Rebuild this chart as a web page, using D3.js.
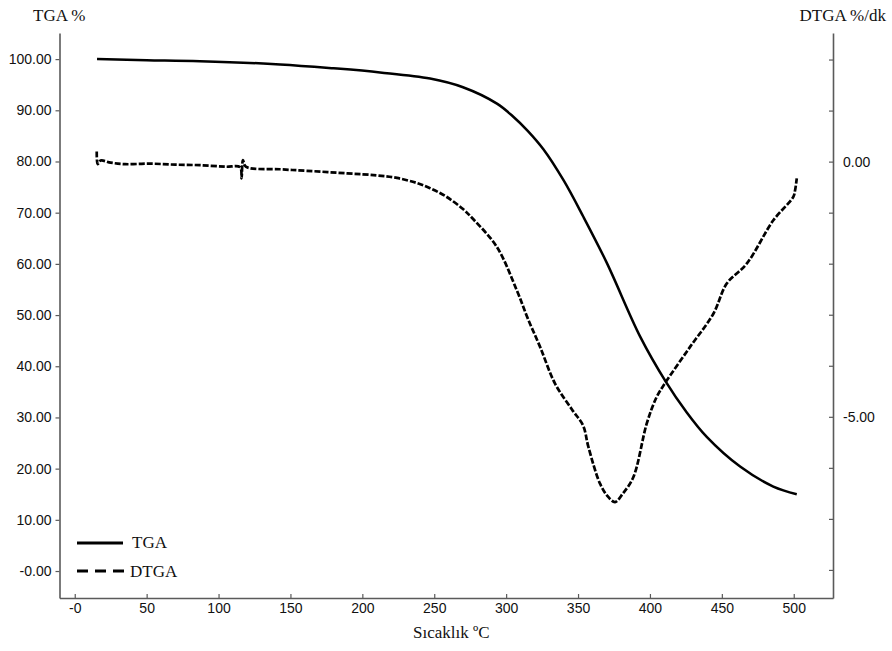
<!DOCTYPE html>
<html>
<head>
<meta charset="utf-8">
<script src="https://cdn.jsdelivr.net/npm/d3@7"></script>
<style>
  html, body { margin: 0; padding: 0; background: #fff; }
  svg { display: block; }
</style>
</head>
<body>
<svg id="chart" width="892" height="651"></svg>
<script>
// Thermogravimetric curve (mass %) versus temperature
const tgaTemp = [15.5, 50, 87.1, 142.8, 180, 212.3, 247.1, 270, 293.6, 304.8, 315, 325.9, 340, 353.7, 370, 393.2, 411, 425, 439.5, 462.7, 485.8, 502.1];
const tgaVals = [100.0, 99.8, 99.6, 98.96, 98.2, 97.4, 96.2, 94.5, 91.3, 88.8, 86.0, 82.4, 76.3, 69.2, 60.2, 45.8, 37.0, 31.2, 26.2, 20.4, 16.5, 15.0];

// Derivative curve (%/dk) versus temperature
const dtgaTemp = [15.3, 16.0, 18.0, 25, 35, 52.4, 70, 87.1, 105, 115, 116, 117, 119, 142.8, 161.3, 189.4, 210, 224.1, 238, 247.1, 258, 270, 277.2, 293.5, 307.4, 315, 323.6, 334.0, 346.1, 353.5, 357.2, 365.3, 371, 375.7, 381, 388.5, 397.8, 404.7, 411.0, 427.9, 444.1, 453.4, 467.3, 485.8, 499.7, 501.0, 502.1];
const dtgaVals = [0.20, -0.05, 0.02, -0.02, -0.05, -0.04, -0.06, -0.07, -0.10, -0.11, -0.33, 0.03, -0.10, -0.15, -0.18, -0.23, -0.27, -0.32, -0.42, -0.52, -0.68, -0.93, -1.13, -1.67, -2.52, -3.07, -3.63, -4.35, -4.87, -5.17, -5.59, -6.31, -6.57, -6.67, -6.51, -6.18, -5.13, -4.61, -4.32, -3.63, -2.98, -2.39, -2.00, -1.15, -0.69, -0.55, -0.33];

// Axis ticks
const xTicks = [0, 50, 100, 150, 200, 250, 300, 350, 400, 450, 500];
const leftTicks = [0, 10, 20, 30, 40, 50, 60, 70, 80, 90, 100];
const rightTicks = [-8, -7, -6, -5, -4, -3, -2, -1, 0, 1, 2];
const rightLabelled = [0, -5];

const svg = d3.select("#chart");
const plot = { left: 59.5, right: 833, top: 33, bottom: 598 };

const x = d3.scaleLinear().domain([-10.6, 527.3]).range([plot.left, plot.right]);
const yL = d3.scaleLinear().domain([-5.27, 105.1]).range([plot.bottom, plot.top]);
const yR = d3.scaleLinear().domain([-8.55, 2.52]).range([plot.bottom, plot.top]);

const axisColor = "#5a5a5a";
const sans = "'Liberation Sans', Arial, sans-serif";
const serif = "'Liberation Serif', 'Times New Roman', serif";

function styleAxis(g) {
  g.select(".domain").attr("stroke", axisColor).attr("stroke-width", 1.6);
  g.selectAll(".tick line").attr("stroke", axisColor).attr("stroke-width", 1.2);
  g.selectAll(".tick text").attr("fill", "#111").style("font-family", sans).style("font-size", "14px");
}

// Bottom axis, ticks pointing inward
const gx = svg.append("g")
  .attr("transform", `translate(0,${plot.bottom})`)
  .call(d3.axisBottom(x).tickValues(xTicks).tickSize(-4).tickPadding(5).tickSizeOuter(0)
    .tickFormat(d => d === 0 ? "-0" : String(d)));
styleAxis(gx);

// Left axis
const gl = svg.append("g")
  .attr("transform", `translate(${plot.left},0)`)
  .call(d3.axisLeft(yL).tickValues(leftTicks).tickSize(4).tickPadding(4).tickSizeOuter(0)
    .tickFormat(d => d === 0 ? "-0.00" : d3.format(".2f")(d)));
styleAxis(gl);

// Right axis, ticks pointing inward, only two labels
const gr = svg.append("g")
  .attr("transform", `translate(${plot.right},0)`)
  .call(d3.axisRight(yR).tickValues(rightTicks).tickSize(-4).tickPadding(10).tickSizeOuter(0)
    .tickFormat(d => rightLabelled.includes(d) ? d3.format(".2f")(d).replace("−", "-") : ""));
styleAxis(gr);

// Curves
const tgaData = tgaTemp.map((t, i) => [t, tgaVals[i]]);
const dtgaData = dtgaTemp.map((t, i) => [t, dtgaVals[i]]);

svg.append("path")
  .datum(tgaData)
  .attr("fill", "none")
  .attr("stroke", "#000")
  .attr("stroke-width", 2.5)
  .attr("d", d3.line().x(d => x(d[0])).y(d => yL(d[1])).curve(d3.curveCatmullRom.alpha(0.5)));

svg.append("path")
  .datum(dtgaData)
  .attr("fill", "none")
  .attr("stroke", "#000")
  .attr("stroke-width", 2.7)
  .attr("stroke-dasharray", "6,2")
  .attr("d", d3.line().x(d => x(d[0])).y(d => yR(d[1])).curve(d3.curveCatmullRom.alpha(0.5)));

// Axis titles
svg.append("text").attr("x", 33).attr("y", 21)
  .style("font-family", serif).style("font-size", "17px").attr("fill", "#111").text("TGA %");
svg.append("text").attr("x", 886).attr("y", 21).attr("text-anchor", "end")
  .style("font-family", serif).style("font-size", "17px").attr("fill", "#111").text("DTGA %/dk");
svg.append("text").attr("x", 413).attr("y", 638)
  .style("font-family", serif).style("font-size", "17px").attr("fill", "#111").text("Sıcaklık ºC");

// Legend
const legend = svg.append("g");
legend.append("line").attr("x1", 77).attr("x2", 123).attr("y1", 543).attr("y2", 543)
  .attr("stroke", "#000").attr("stroke-width", 3);
legend.append("text").attr("x", 132).attr("y", 548)
  .style("font-family", serif).style("font-size", "17px").attr("fill", "#111").text("TGA");
legend.append("line").attr("x1", 77).attr("x2", 124).attr("y1", 571).attr("y2", 571)
  .attr("stroke", "#000").attr("stroke-width", 3).attr("stroke-dasharray", "11,7");
legend.append("text").attr("x", 130).attr("y", 577)
  .style("font-family", serif).style("font-size", "17px").attr("fill", "#111").text("DTGA");
</script>
</body>
</html>
